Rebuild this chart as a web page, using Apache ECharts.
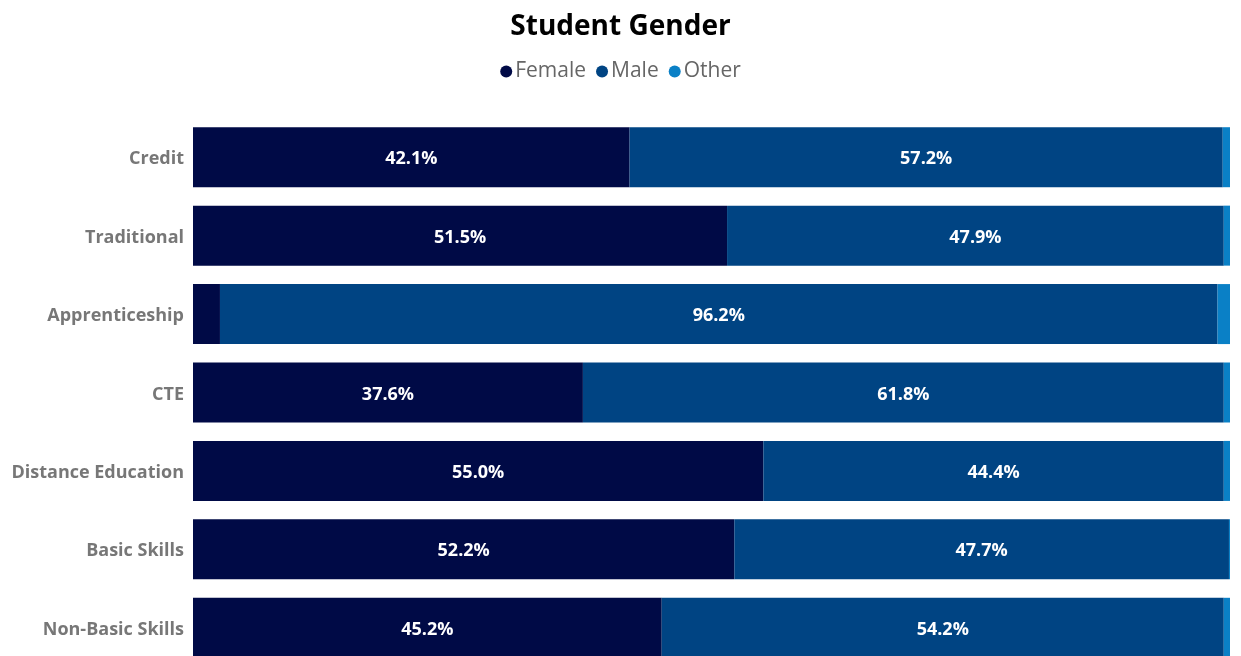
<!DOCTYPE html>
<html>
<head>
<meta charset="utf-8">
<script src="https://cdn.jsdelivr.net/npm/echarts@6/dist/echarts.min.js"></script>
<style>
  html, body { margin: 0; padding: 0; overflow: hidden; background: #fff; }
  #chart { width: 1241px; height: 667px; }
</style>
</head>
<body>
<div id="chart"></div>
<script>
var categories = ['Credit', 'Traditional', 'Apprenticeship', 'CTE', 'Distance Education', 'Basic Skills', 'Non-Basic Skills']
var female = [42.1, 51.5, 2.6, 37.6, 55.0, 52.2, 45.2]
var male = [57.2, 47.9, 96.2, 61.8, 44.4, 47.7, 54.2]
var other = [0.7, 0.6, 1.2, 0.6, 0.6, 0.1, 0.6]

var colors = ['#000a46', '#004483', '#0a80c6']
var font = '"Open Sans", "Noto Sans", sans-serif'

function makeSeries (name, values, color) {
  return {
    name: name,
    type: 'bar',
    stack: 'total',
    barWidth: 60,
    data: values,
    itemStyle: { color: color },
    label: {
      show: true,
      position: 'inside',
      offset: [0, 2],
      color: '#fff',
      fontFamily: font,
      fontWeight: 'bold',
      fontSize: 18,
      formatter: function (p) {
        return p.value >= 5 ? p.value.toFixed(1) + '%' : ''
      }
    }
  }
}

var chart = echarts.init(document.getElementById('chart'))
chart.setOption({
  animation: false,
  title: {
    text: 'Student Gender',
    left: 'center',
    top: 8,
    textStyle: { fontFamily: font, fontWeight: 'bold', fontSize: 28, color: '#000' }
  },
  legend: {
    top: 56,
    left: 'center',
    icon: 'circle',
    itemWidth: 12,
    itemHeight: 12,
    itemGap: 10,
    textStyle: { fontFamily: font, fontSize: 21, color: '#666', padding: [0, 0, 0, -2] },
    data: ['Female', 'Male', 'Other']
  },
  grid: { left: 193, right: 11, top: 118, bottom: 0, containLabel: false },
  xAxis: {
    type: 'value',
    min: 0,
    max: 100,
    show: false
  },
  yAxis: {
    type: 'category',
    inverse: true,
    data: categories,
    axisLine: { show: false },
    axisTick: { show: false },
    axisLabel: {
      margin: 9,
      formatter: '{a|{value}}',
      rich: {
        a: {
          padding: [4, 0, 0, 0],
          color: '#777',
          fontFamily: font,
          fontWeight: 'bold',
          fontSize: 18
        }
      }
    }
  },
  series: [
    makeSeries('Female', female, colors[0]),
    makeSeries('Male', male, colors[1]),
    makeSeries('Other', other, colors[2])
  ]
})
</script>
</body>
</html>
